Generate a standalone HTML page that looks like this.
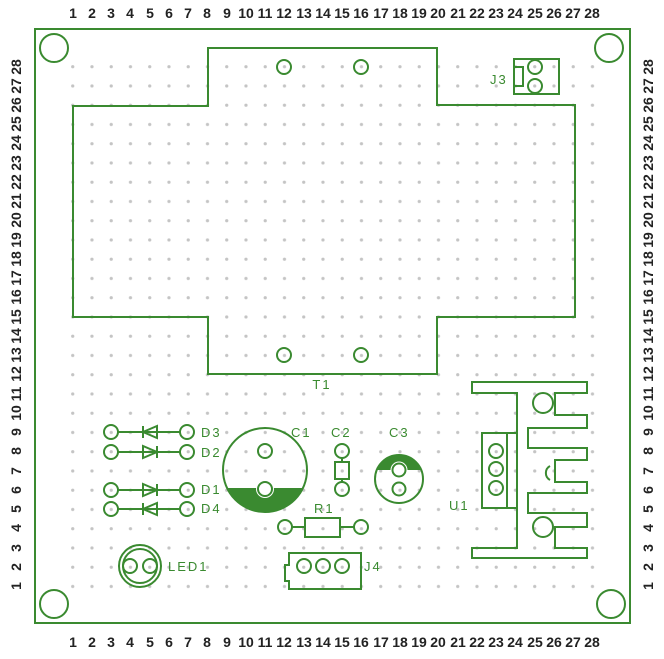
<!DOCTYPE html>
<html><head><meta charset="utf-8"><style>
html,body{margin:0;padding:0;background:#fff;}
svg{display:block;}
.n{font-family:"Liberation Sans",sans-serif;font-weight:bold;font-size:14px;fill:#222;text-anchor:middle;}
.l{font-family:"Liberation Sans",sans-serif;font-size:13px;fill:#3a8a30;letter-spacing:2px;}
.g{fill:none;stroke:#3a8a30;stroke-width:2;}
</style></head><body>
<svg width="664" height="659" viewBox="0 0 664 659" xmlns="http://www.w3.org/2000/svg">
<defs>
<pattern id="dots" x="63.1" y="57.1" width="19.25" height="19.25" patternUnits="userSpaceOnUse">
<circle cx="9.625" cy="9.625" r="1.6" fill="#c4c4c4"/>
</pattern>
</defs>
<rect x="63" y="57" width="539" height="539" fill="url(#dots)"/>
<!-- board -->
<rect x="35" y="29" width="595" height="594" class="g" stroke-width="2.5"/>
<circle cx="54" cy="48" r="14" class="g"/>
<circle cx="609" cy="48" r="14" class="g"/>
<circle cx="54" cy="604" r="14" class="g"/>
<circle cx="611" cy="604" r="14" class="g"/>
<!-- T1 -->
<polygon points="208,48 437,48 437,105 575,105 575,317 437,317 437,374 208,374 208,317 73,317 73,106 208,106" class="g"/>
<circle cx="284" cy="67" r="7" class="g"/><circle cx="361" cy="67" r="7" class="g"/>
<circle cx="284" cy="355" r="7" class="g"/><circle cx="361" cy="355" r="7" class="g"/>
<text x="322" y="389" class="l" text-anchor="middle">T1</text>
<!-- J3 -->
<rect x="514" y="59" width="45" height="35" class="g"/>
<rect x="514" y="67" width="9" height="19" class="g"/>
<circle cx="535" cy="67" r="7" class="g"/><circle cx="535" cy="86" r="7" class="g"/>
<text x="490" y="84" class="l">J3</text>
<!-- diodes -->
<g class="g">
<circle cx="111" cy="432" r="7"/><circle cx="187" cy="432" r="7"/>
<path d="M118,432H180 M157,426V438L143,432Z M143,426V438"/>
<circle cx="111" cy="452" r="7"/><circle cx="187" cy="452" r="7"/>
<path d="M118,452H180 M143,446V458L157,452Z M157,446V458"/>
<circle cx="111" cy="490" r="7"/><circle cx="187" cy="490" r="7"/>
<path d="M118,490H180 M143,484V496L157,490Z M157,484V496"/>
<circle cx="111" cy="509" r="7"/><circle cx="187" cy="509" r="7"/>
<path d="M118,509H180 M157,503V515L143,509Z M143,503V515"/>
</g>
<text x="201" y="437" class="l">D3</text>
<text x="201" y="457" class="l">D2</text>
<text x="201" y="494" class="l">D1</text>
<text x="201" y="513" class="l">D4</text>
<!-- C1 -->
<circle cx="265" cy="470" r="42" class="g"/>
<path d="M227,488 L303,488 A42 42 0 0 1 227,488 Z" fill="#3a8a30"/>
<circle cx="265" cy="489" r="9" fill="#fff"/>
<circle cx="265" cy="489" r="7" class="g"/>
<circle cx="265" cy="451" r="7" class="g"/>
<text x="291" y="437" class="l">C1</text>
<!-- C2 -->
<circle cx="342" cy="451" r="7" class="g"/><circle cx="342" cy="489" r="7" class="g"/>
<rect x="335" y="462" width="14" height="17" class="g"/>
<path d="M342,458V462 M342,479V482" class="g"/>
<text x="331" y="437" class="l">C2</text>
<!-- C3 -->
<circle cx="399" cy="479" r="24" class="g"/>
<path d="M376.8,470 A24 24 0 0 1 421.2,470 Z" fill="#3a8a30"/>
<circle cx="399" cy="470" r="8.5" fill="#fff"/>
<circle cx="399" cy="470" r="6.5" class="g"/>
<circle cx="399" cy="489" r="6.5" class="g"/>
<text x="389" y="437" class="l">C3</text>
<!-- R1 -->
<circle cx="285" cy="527" r="7" class="g"/><circle cx="361" cy="527" r="7" class="g"/>
<rect x="305" y="518" width="35" height="19" class="g"/>
<path d="M292,527H305 M340,527H354" class="g"/>
<text x="314" y="513" class="l">R1</text>
<!-- LED1 -->
<circle cx="140" cy="566" r="21" class="g"/>
<circle cx="140" cy="566" r="17" class="g"/>
<circle cx="130" cy="566" r="7" class="g"/><circle cx="150" cy="566" r="7" class="g"/>
<text x="168" y="571" class="l">LED1</text>
<!-- J4 -->
<path d="M289,553 H361 V589 H289 V581 H285 V565 H289 Z" class="g"/>
<circle cx="304" cy="566" r="7" class="g"/><circle cx="323" cy="566" r="7" class="g"/><circle cx="342" cy="566" r="7" class="g"/>
<text x="364" y="571" class="l">J4</text>
<!-- U1 heatsink -->
<polygon class="g" points="472,382 587,382 587,393 555,393 555,415 587,415 587,428 528,428 528,448 587,448 587,460 555,460 555,482 587,482 587,493 528,493 528,513 587,513 587,527 555,527 555,548 587,548 587,558 472,558 472,548 517,548 517,393 472,393"/>
<circle cx="543" cy="403" r="10" class="g"/>
<circle cx="543" cy="527" r="10" class="g"/>
<path d="M550,466 A8 8 0 0 0 550,480" class="g" stroke-width="1.5"/>
<rect x="482" y="433" width="35" height="75" class="g"/>
<path d="M507,433V508" class="g"/>
<circle cx="496" cy="451" r="7" class="g"/><circle cx="496" cy="469" r="7" class="g"/><circle cx="496" cy="488" r="7" class="g"/>
<text x="449" y="510" class="l">U1</text>
<!-- top labels -->
<g class="n">
<text x="73" y="18">1</text><text x="92" y="18">2</text><text x="111" y="18">3</text><text x="130" y="18">4</text><text x="150" y="18">5</text><text x="169" y="18">6</text><text x="188" y="18">7</text><text x="207" y="18">8</text><text x="227" y="18">9</text><text x="246" y="18">10</text><text x="265" y="18">11</text><text x="284" y="18">12</text><text x="304" y="18">13</text><text x="323" y="18">14</text><text x="342" y="18">15</text><text x="361" y="18">16</text><text x="381" y="18">17</text><text x="400" y="18">18</text><text x="419" y="18">19</text><text x="438" y="18">20</text><text x="458" y="18">21</text><text x="477" y="18">22</text><text x="496" y="18">23</text><text x="515" y="18">24</text><text x="535" y="18">25</text><text x="554" y="18">26</text><text x="573" y="18">27</text><text x="592" y="18">28</text>
</g>
<g class="n">
<text x="73" y="647">1</text><text x="92" y="647">2</text><text x="111" y="647">3</text><text x="130" y="647">4</text><text x="150" y="647">5</text><text x="169" y="647">6</text><text x="188" y="647">7</text><text x="207" y="647">8</text><text x="227" y="647">9</text><text x="246" y="647">10</text><text x="265" y="647">11</text><text x="284" y="647">12</text><text x="304" y="647">13</text><text x="323" y="647">14</text><text x="342" y="647">15</text><text x="361" y="647">16</text><text x="381" y="647">17</text><text x="400" y="647">18</text><text x="419" y="647">19</text><text x="438" y="647">20</text><text x="458" y="647">21</text><text x="477" y="647">22</text><text x="496" y="647">23</text><text x="515" y="647">24</text><text x="535" y="647">25</text><text x="554" y="647">26</text><text x="573" y="647">27</text><text x="592" y="647">28</text>
</g>
<!-- left labels -->
<g class="n">
<text transform="translate(21,586) rotate(-90)">1</text><text transform="translate(21,567) rotate(-90)">2</text><text transform="translate(21,548) rotate(-90)">3</text><text transform="translate(21,528) rotate(-90)">4</text><text transform="translate(21,509) rotate(-90)">5</text><text transform="translate(21,490) rotate(-90)">6</text><text transform="translate(21,471) rotate(-90)">7</text><text transform="translate(21,451) rotate(-90)">8</text><text transform="translate(21,432) rotate(-90)">9</text><text transform="translate(21,413) rotate(-90)">10</text><text transform="translate(21,394) rotate(-90)">11</text><text transform="translate(21,374) rotate(-90)">12</text><text transform="translate(21,355) rotate(-90)">13</text><text transform="translate(21,336) rotate(-90)">14</text><text transform="translate(21,317) rotate(-90)">15</text><text transform="translate(21,297) rotate(-90)">16</text><text transform="translate(21,278) rotate(-90)">17</text><text transform="translate(21,259) rotate(-90)">18</text><text transform="translate(21,240) rotate(-90)">19</text><text transform="translate(21,220) rotate(-90)">20</text><text transform="translate(21,201) rotate(-90)">21</text><text transform="translate(21,182) rotate(-90)">22</text><text transform="translate(21,163) rotate(-90)">23</text><text transform="translate(21,143) rotate(-90)">24</text><text transform="translate(21,124) rotate(-90)">25</text><text transform="translate(21,105) rotate(-90)">26</text><text transform="translate(21,86) rotate(-90)">27</text><text transform="translate(21,67) rotate(-90)">28</text>
</g>
<g class="n">
<text transform="translate(653,586) rotate(-90)">1</text><text transform="translate(653,567) rotate(-90)">2</text><text transform="translate(653,548) rotate(-90)">3</text><text transform="translate(653,528) rotate(-90)">4</text><text transform="translate(653,509) rotate(-90)">5</text><text transform="translate(653,490) rotate(-90)">6</text><text transform="translate(653,471) rotate(-90)">7</text><text transform="translate(653,451) rotate(-90)">8</text><text transform="translate(653,432) rotate(-90)">9</text><text transform="translate(653,413) rotate(-90)">10</text><text transform="translate(653,394) rotate(-90)">11</text><text transform="translate(653,374) rotate(-90)">12</text><text transform="translate(653,355) rotate(-90)">13</text><text transform="translate(653,336) rotate(-90)">14</text><text transform="translate(653,317) rotate(-90)">15</text><text transform="translate(653,297) rotate(-90)">16</text><text transform="translate(653,278) rotate(-90)">17</text><text transform="translate(653,259) rotate(-90)">18</text><text transform="translate(653,240) rotate(-90)">19</text><text transform="translate(653,220) rotate(-90)">20</text><text transform="translate(653,201) rotate(-90)">21</text><text transform="translate(653,182) rotate(-90)">22</text><text transform="translate(653,163) rotate(-90)">23</text><text transform="translate(653,143) rotate(-90)">24</text><text transform="translate(653,124) rotate(-90)">25</text><text transform="translate(653,105) rotate(-90)">26</text><text transform="translate(653,86) rotate(-90)">27</text><text transform="translate(653,67) rotate(-90)">28</text>
</g>
</svg>
</body></html>
